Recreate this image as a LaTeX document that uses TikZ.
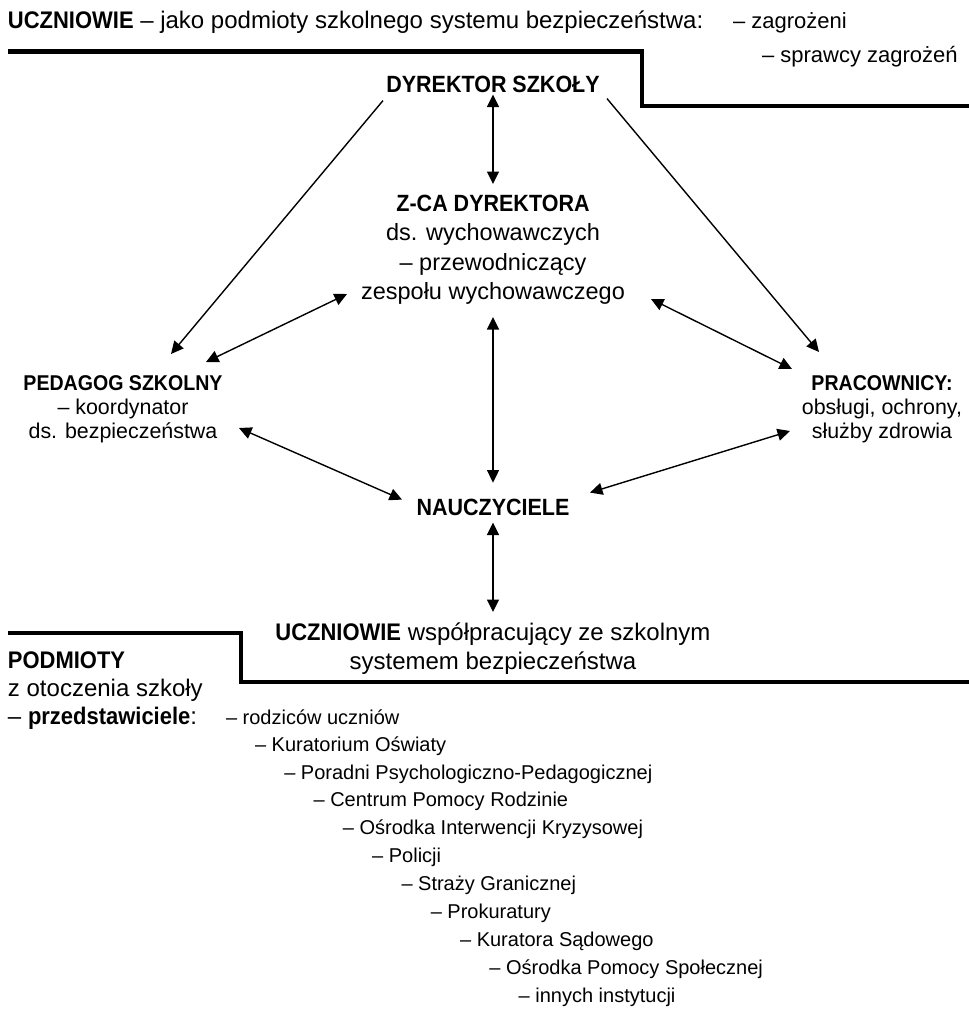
\documentclass[tikz,border=0pt]{standalone}
\usepackage{fontspec}
\setmainfont{Liberation Sans}[BoldFeatures={FakeStretch=0.915}]
\usetikzlibrary{arrows.meta,calc}
\begin{document}
\begin{tikzpicture}[x=1pt,y=-1pt,
  >={Triangle[length=12.5pt,width=12pt]},
  every node/.style={inner sep=0pt, outer sep=0pt},
  head/.style={font=\fontsize{24}{29}\selectfont},
  role/.style={font=\fontsize{22}{26}\selectfont, anchor=base west},
  big/.style={font=\fontsize{23.5}{29.3}\selectfont, align=center},
  side/.style={font=\fontsize{21.4}{23.8}\selectfont, align=center},
  lst/.style={font=\fontsize{20}{24}\selectfont, anchor=base west},
  rule/.style={line width=4.5pt, line join=miter},
  one/.style={line width=1.4pt, ->},
  both/.style={line width=1.4pt, <->}]
\useasboundingbox (0,0) rectangle (969,1013);

% header: pupils as subjects of the safety system
\node[head, anchor=base west] (top) at (8,28)
  {\textbf{UCZNIOWIE} – jako podmioty szkolnego systemu bezpieczeństwa:};
\node[role] (zag) at (733,28) {– zagrożeni};
\node[role] (spr) at (762,62) {– sprawcy zagrożeń};
\draw[rule] (8,51.5) -| (642,106) -- (969,106);

% school staff
\node[big, anchor=base] (dyr) at (493,92) {\textbf{DYREKTOR SZKOŁY}};
\node[big, anchor=north] (zca) at (493,195)
  {\textbf{Z-CA DYREKTORA}\\ds. wychowawczych\\– przewodniczący\\zespołu wychowawczego};
\node[side, anchor=north] (ped) at (123,376)
  {\textbf{PEDAGOG SZKOLNY}\\– koordynator\\ds. bezpieczeństwa};
\node[side, anchor=north] (prac) at (882,376)
  {\textbf{PRACOWNICY:}\\obsługi, ochrony,\\służby zdrowia};
\node[big, anchor=base] (nau) at (493,515) {\textbf{NAUCZYCIELE}};
\node[head, align=center, anchor=north] (ucz) at (493,623)
  {\textbf{UCZNIOWIE} współpracujący ze szkolnym\\systemem bezpieczeństwa};

% relations
\draw[both] ($(dyr.north)+(0,19)$) -- ($(zca.north)+(0,-11)$);
\draw[one]  ($(dyr.north)+(-110,25)$) -- ($(ped.north)+(48,-22)$);
\draw[one]  ($(dyr.north)+(114,23)$) -- ($(prac.north)+(-63,-24)$);
\draw[both] ($(zca.north)+(-146,99)$) -- ($(ped.north)+(83,-14)$);
\draw[both] ($(zca.north)+(158,104)$) -- ($(prac.north)+(-90,-7)$);
\draw[both] ($(zca.north)+(0,122)$) -- ($(nau.north)+(0,-16)$);
\draw[both] ($(ped.north)+(116,52)$) -- ($(nau.north)+(-91,1)$);
\draw[both] ($(prac.north)+(-92,55)$) -- ($(nau.north)+(97,-6)$);
\draw[both] ($(nau.north)+(0,24)$) -- ($(ucz.north)+(0,-11)$);

% outside bodies
\draw[rule] (8,633) -| (241,682) -- (969,682);
\node[head, anchor=base west] (podm) at (8,668) {\textbf{PODMIOTY}};
\node[head, anchor=base west] (otocz) at (8,696) {z otoczenia szkoły};
\node[head, anchor=base west] (przed) at (8,724) {– \textbf{przedstawiciele}:};
\node[lst] (l0) at (226,724) {– rodziców uczniów};
\node[lst] (l1) at (255,751.5) {– Kuratorium Oświaty};
\node[lst] (l2) at (284.3,779) {– Poradni Psychologiczno-Pedagogicznej};
\node[lst] (l3) at (313.6,806.5) {– Centrum Pomocy Rodzinie};
\node[lst] (l4) at (342.9,834) {– Ośrodka Interwencji Kryzysowej};
\node[lst] (l5) at (372.2,862.5) {– Policji};
\node[lst] (l6) at (401.5,890) {– Straży Granicznej};
\node[lst] (l7) at (430.8,918) {– Prokuratury};
\node[lst] (l8) at (460.1,946) {– Kuratora Sądowego};
\node[lst] (l9) at (489.4,974.5) {– Ośrodka Pomocy Społecznej};
\node[lst] (l10) at (518.7,1002) {– innych instytucji};
\end{tikzpicture}
\end{document}
